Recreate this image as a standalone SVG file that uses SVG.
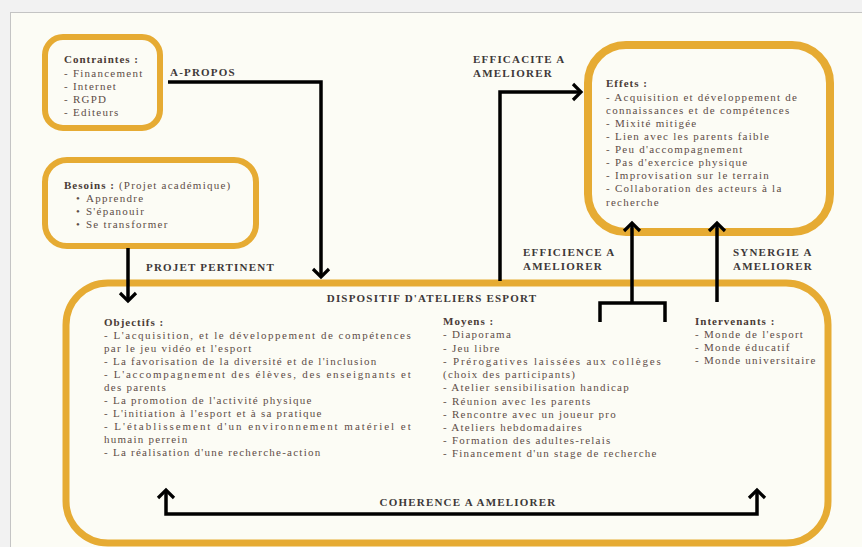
<svg xmlns="http://www.w3.org/2000/svg" width="862" height="547" viewBox="0 0 862 547">
<style>
.box{fill:#fcfcf5;stroke:#e6ab33}
.t{font-family:"Liberation Serif","Times New Roman",serif;font-size:11px;fill:#5e4d47;letter-spacing:1.25px}
.h{font-family:"Liberation Serif","Times New Roman",serif;font-size:11px;font-weight:bold;fill:#4a3b36;letter-spacing:1px}
.lb{font-family:"Liberation Serif","Times New Roman",serif;font-size:11px;font-weight:bold;fill:#3d3838;letter-spacing:1.2px}
.c{fill:none;stroke:#000;stroke-width:3.5}
</style>
<defs>
<marker id="ah" viewBox="-12 -12 24 24" refX="0" refY="0" markerWidth="24" markerHeight="24" markerUnits="userSpaceOnUse" orient="auto-start-reverse">
<path d="M-8,-8 L0,0 L-8,8" fill="none" stroke="#000" stroke-width="3.2"/>
</marker>
</defs>
<rect x="0" y="0" width="862" height="547" fill="#f2f2f2"/>
<rect x="10.5" y="12.5" width="860" height="540" fill="#fcfcf5" stroke="#c4c4c4"/>

<g id="contraintes">
<rect class="box" x="45" y="37" width="115" height="91" rx="18" stroke-width="6"/>
<text class="h" x="64" y="63">Contraintes :</text>
<text class="t" x="64" y="77">- Financement</text>
<text class="t" x="64" y="90">- Internet</text>
<text class="t" x="64" y="103">- RGPD</text>
<text class="t" x="64" y="116">- Editeurs</text>
</g>

<g id="besoins">
<rect class="box" x="45" y="160" width="211" height="86" rx="22" stroke-width="6"/>
<text x="64" y="189"><tspan class="h">Besoins :</tspan><tspan class="t"> (Projet académique)</tspan></text>
<text class="t" x="76" y="202">•</text><text class="t" x="86" y="202">Apprendre</text>
<text class="t" x="76" y="215">•</text><text class="t" x="86" y="215">S'épanouir</text>
<text class="t" x="76" y="228">•</text><text class="t" x="86" y="228">Se transformer</text>
</g>

<g id="effets">
<rect class="box" x="588" y="45" width="242" height="187" rx="38" stroke-width="8"/>
<text class="h" x="606" y="87">Effets :</text>
<text class="t" x="606" y="101">- Acquisition et développement de</text>
<text class="t" x="606" y="114">connaissances et de compétences</text>
<text class="t" x="606" y="127">- Mixité mitigée</text>
<text class="t" x="606" y="140">- Lien avec les parents faible</text>
<text class="t" x="606" y="153">- Peu d'accompagnement</text>
<text class="t" x="606" y="166">- Pas d'exercice physique</text>
<text class="t" x="606" y="179">- Improvisation sur le terrain</text>
<text class="t" x="606" y="192">- Collaboration des acteurs à la</text>
<text class="t" x="606" y="206">recherche</text>
</g>

<g id="dispositif">
<rect class="box" x="66" y="283" width="762" height="260" rx="42" stroke-width="7"/>
<text class="lb" x="432" y="302" text-anchor="middle">DISPOSITIF D'ATELIERS ESPORT</text>
<text class="h" x="104" y="326">Objectifs :</text>
<text class="t" x="104" y="339" textLength="308" lengthAdjust="spacing">- L'acquisition, et le développement de compétences</text>
<text class="t" x="104" y="352">par le jeu vidéo et l'esport</text>
<text class="t" x="104" y="365">- La favorisation de la diversité et de l'inclusion</text>
<text class="t" x="104" y="378" textLength="308" lengthAdjust="spacing">- L'accompagnement des élèves, des enseignants et</text>
<text class="t" x="104" y="391">des parents</text>
<text class="t" x="104" y="404">- La promotion de l'activité physique</text>
<text class="t" x="104" y="417">- L'initiation à l'esport et à sa pratique</text>
<text class="t" x="104" y="430" textLength="308" lengthAdjust="spacing">- L'établissement d'un environnement matériel et</text>
<text class="t" x="104" y="443">humain perrein</text>
<text class="t" x="104" y="456">- La réalisation d'une recherche-action</text>

<text class="h" x="443" y="325">Moyens :</text>
<text class="t" x="443" y="338">- Diaporama</text>
<text class="t" x="443" y="352">- Jeu libre</text>
<text class="t" x="443" y="365" textLength="219" lengthAdjust="spacing">- Prérogatives laissées aux collèges</text>
<text class="t" x="443" y="378">(choix des participants)</text>
<text class="t" x="443" y="391">- Atelier sensibilisation handicap</text>
<text class="t" x="443" y="405">- Réunion avec les parents</text>
<text class="t" x="443" y="418">- Rencontre avec un joueur pro</text>
<text class="t" x="443" y="431">- Ateliers hebdomadaires</text>
<text class="t" x="443" y="444">- Formation des adultes-relais</text>
<text class="t" x="443" y="457">- Financement d'un stage de recherche</text>

<text class="h" x="695" y="325">Intervenants :</text>
<text class="t" x="695" y="338">- Monde de l'esport</text>
<text class="t" x="695" y="351">- Monde éducatif</text>
<text class="t" x="695" y="364">- Monde universitaire</text>
</g>

<g id="connectors">
<path class="c" d="M168,82 H321 V277" marker-end="url(#ah)"/>
<path class="c" d="M128,248 V301" marker-end="url(#ah)"/>
<path class="c" d="M500,281 V92 H581" marker-end="url(#ah)"/>
<path class="c" d="M600,322 V303 H665 V322"/>
<path class="c" d="M632,303 V223" marker-end="url(#ah)"/>
<path class="c" d="M717,302 V223" marker-end="url(#ah)"/>
<path class="c" d="M166,490 V514 H757 V490" marker-start="url(#ah)" marker-end="url(#ah)"/>
<text class="lb" x="170" y="76">A-PROPOS</text>
<text class="lb" x="146" y="271">PROJET PERTINENT</text>
<text class="lb" x="473" y="63">EFFICACITE A</text>
<text class="lb" x="473" y="77">AMELIORER</text>
<text class="lb" x="523" y="256">EFFICIENCE A</text>
<text class="lb" x="523" y="270">AMELIORER</text>
<text class="lb" x="733" y="256">SYNERGIE A</text>
<text class="lb" x="733" y="270">AMELIORER</text>
<text class="lb" x="468" y="506" text-anchor="middle">COHERENCE A AMELIORER</text>
</g>
</svg>
